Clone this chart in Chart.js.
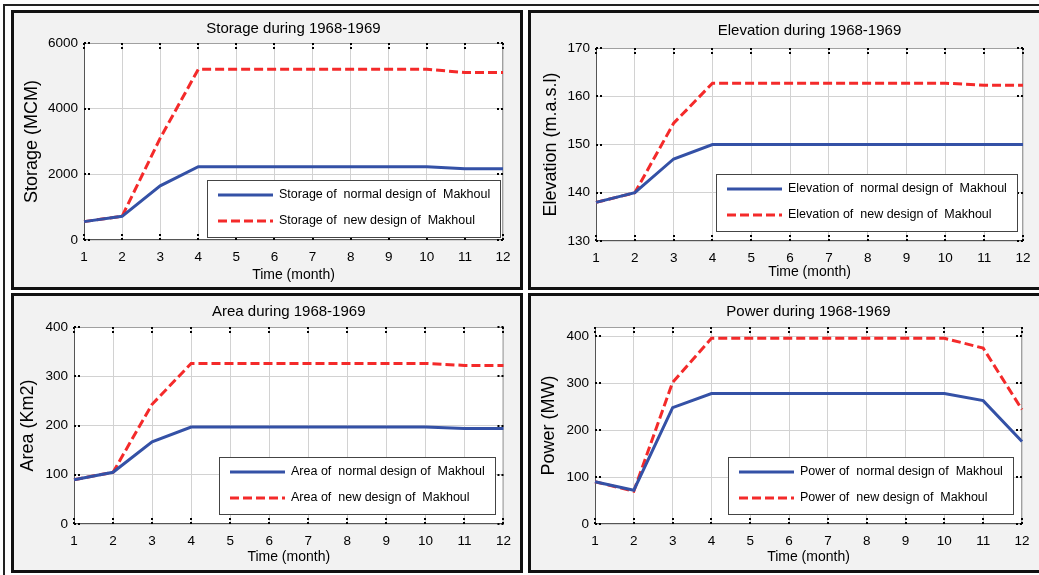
<!DOCTYPE html>
<html>
<head>
<meta charset="utf-8">
<script src="https://cdn.jsdelivr.net/npm/chart.js@4.4.1/dist/chart.umd.min.js"></script>
<style>
  body { margin: 0; width: 1039px; height: 575px; overflow: hidden; position: relative; background: #fff; }
  .frame { position: absolute; left: 3px; top: 4px; width: 1100px; height: 700px; border-left: 2px solid #222; border-top: 2px solid #222; }
  .panel { position: absolute; box-sizing: border-box; height: 280px; border: 3px solid #111; background: #f2f2f2; }
  .panel canvas { display: block; }
</style>
</head>
<body>
<div class="frame"></div>
<div class="panel" style="left:11px; top:10px; width:512px"><canvas id="storageChart" width="506" height="274"></canvas></div>
<div class="panel" style="left:528px; top:10px; width:516px"><canvas id="elevationChart" width="510" height="274"></canvas></div>
<div class="panel" style="left:11px; top:293px; width:512px"><canvas id="areaChart" width="506" height="274"></canvas></div>
<div class="panel" style="left:528px; top:293px; width:516px"><canvas id="powerChart" width="510" height="274"></canvas></div>

<script>
const months = ['1', '2', '3', '4', '5', '6', '7', '8', '9', '10', '11', '12'];

const storageNormal = [560, 720, 1650, 2230, 2230, 2230, 2230, 2230, 2230, 2230, 2170, 2170];
const storageNew = [560, 720, 3100, 5200, 5200, 5200, 5200, 5200, 5200, 5200, 5100, 5100];

const elevationNormal = [138, 140, 147, 150, 150, 150, 150, 150, 150, 150, 150, 150];
const elevationNew = [138, 140, 154.4, 162.7, 162.7, 162.7, 162.7, 162.7, 162.7, 162.7, 162.3, 162.3];

const areaNormal = [90, 105, 167, 197, 197, 197, 197, 197, 197, 197, 194, 194];
const areaNew = [90, 105, 243, 326, 326, 326, 326, 326, 326, 326, 322, 322];

const powerNormal = [90, 72, 248, 278, 278, 278, 278, 278, 278, 278, 263, 176];
const powerNew = [90, 70, 302, 396, 396, 396, 396, 396, 396, 396, 375, 244];

const SANS = '"Liberation Sans", Arial, sans-serif';
const BLUE = '#3451a6';
const RED = '#f42a2a';
const GRID = '#d2d2d2';
const INK = '#000';

// white plot box, grey frame and the short inward ticks on all four sides
const plotFrame = {
  id: 'plotFrame',
  beforeDraw(chart) {
    const { ctx, chartArea: a } = chart;
    ctx.save();
    ctx.fillStyle = '#fff';
    ctx.fillRect(a.left, a.top, a.width, a.height);
    ctx.restore();
  },
  beforeDatasetsDraw(chart) {
    const { ctx, chartArea: a, scales } = chart;
    ctx.save();
    ctx.lineWidth = 1;
    ctx.strokeStyle = '#a0a0a0';
    ctx.strokeRect(a.left + 0.5, a.top + 0.5, a.width - 1, a.height - 1);
    ctx.strokeStyle = '#555';
    ctx.beginPath();
    ctx.moveTo(a.left + 0.5, a.top);
    ctx.lineTo(a.left + 0.5, a.bottom - 0.5);
    ctx.lineTo(a.right, a.bottom - 0.5);
    ctx.stroke();

    ctx.strokeStyle = '#000';
    ctx.lineWidth = 2;
    ctx.setLineDash([2, 2]);
    ctx.beginPath();
    scales.x.ticks.forEach((t, i) => {
      const x = Math.round(scales.x.getPixelForTick(i));
      ctx.moveTo(x, a.top); ctx.lineTo(x, a.top + 8);
      ctx.moveTo(x, a.bottom); ctx.lineTo(x, a.bottom - 8);
    });
    scales.y.ticks.forEach(t => {
      const y = Math.round(scales.y.getPixelForValue(t.value));
      ctx.moveTo(a.left, y); ctx.lineTo(a.left + 8, y);
      ctx.moveTo(a.right, y); ctx.lineTo(a.right - 8, y);
    });
    ctx.stroke();
    ctx.restore();
  }
};

// boxed legend sitting in the lower right corner of the plot
const boxLegend = {
  id: 'boxLegend',
  afterDraw(chart, args, opts) {
    const { ctx, chartArea: a } = chart;
    const sets = chart.data.datasets;
    ctx.save();
    ctx.font = '12.5px ' + SANS;
    const textW = Math.max(...sets.map(d => ctx.measureText(d.label).width));
    const w = Math.round(11 + 55 + 6 + textW + 10);
    const h = 57;
    const x = Math.round(a.right - opts.right - w);
    const y = Math.round(a.bottom - opts.bottom - h);
    ctx.fillStyle = '#fff';
    ctx.fillRect(x, y, w, h);
    ctx.strokeStyle = '#444';
    ctx.lineWidth = 1;
    ctx.strokeRect(x + 0.5, y + 0.5, w, h);
    sets.forEach((d, i) => {
      const ly = y + 15 + i * 26;
      ctx.strokeStyle = d.borderColor;
      ctx.lineWidth = d.borderWidth;
      ctx.setLineDash(d.borderDash || []);
      ctx.beginPath();
      ctx.moveTo(x + 11, ly);
      ctx.lineTo(x + 66, ly);
      ctx.stroke();
      ctx.fillStyle = INK;
      ctx.textBaseline = 'middle';
      ctx.fillText(d.label, x + 72, ly);
    });
    ctx.restore();
  }
};

function makeChart(id, lay, title, yTitle, range, normal, fresh, names) {
  return new Chart(document.getElementById(id), {
    type: 'line',
    data: {
      labels: months,
      datasets: [
        { label: names[0], data: normal, borderColor: BLUE, borderWidth: 3, pointRadius: 0, tension: 0, fill: false },
        { label: names[1], data: fresh, borderColor: RED, borderWidth: 3, borderDash: [9, 4], pointRadius: 0, tension: 0, fill: false }
      ]
    },
    options: {
      responsive: false,
      animation: false,
      devicePixelRatio: 1,
      layout: { padding: { left: 0, right: lay.right, top: 0, bottom: 0 } },
      plugins: {
        legend: { display: false },
        tooltip: { enabled: false },
        title: {
          display: true,
          text: title,
          fullSize: false,
          color: INK,
          font: { family: SANS, size: 15, weight: 'normal' },
          padding: { top: lay.titleY - 9, bottom: lay.top - lay.titleY - 9 }
        },
        boxLegend: { right: lay.legendRight, bottom: lay.legendBottom }
      },
      scales: {
        x: {
          grid: { color: GRID, drawTicks: false },
          border: { display: false },
          ticks: { color: INK, font: { family: SANS, size: 13.5 }, padding: 9, maxRotation: 0, autoSkip: false },
          title: {
            display: true,
            text: 'Time (month)',
            color: INK,
            font: { family: SANS, size: 14 },
            padding: { top: 0, bottom: lay.xTitleBottom }
          },
          afterFit: s => { s.height = lay.bottom; }
        },
        y: {
          min: range[0],
          max: range[1],
          grid: { color: GRID, drawTicks: false },
          border: { display: false },
          ticks: {
            stepSize: range[2],
            includeBounds: false,
            color: INK,
            font: { family: SANS, size: 13.5 },
            padding: 6,
            callback: v => String(v)
          },
          title: {
            display: true,
            text: yTitle,
            color: INK,
            font: { family: SANS, size: 18 },
            padding: { top: lay.yTitleX - 10.8, bottom: 0 }
          },
          afterFit: s => { s.width = lay.left; }
        }
      }
    },
    plugins: [plotFrame, boxLegend]
  });
}

makeChart('storageChart',
  { left: 70, right: 17, top: 30, bottom: 47, titleY: 16, xTitleBottom: 3.5, yTitleX: 18, legendRight: 3, legendBottom: 3 },
  'Storage during 1968-1969', 'Storage (MCM)', [0, 6000, 2000],
  storageNormal, storageNew,
  ['Storage of  normal design of  Makhoul', 'Storage of  new design of  Makhoul']);

makeChart('elevationChart',
  { left: 65, right: 18, top: 35, bottom: 46, titleY: 18, xTitleBottom: 6, yTitleX: 19.7, legendRight: 6, legendBottom: 10 },
  'Elevation during 1968-1969', 'Elevation (m.a.s.l)', [130, 170, 10],
  elevationNormal, elevationNew,
  ['Elevation of  normal design of  Makhoul', 'Elevation of  new design of  Makhoul']);

makeChart('areaChart',
  { left: 60, right: 11, top: 31, bottom: 46, titleY: 16, xTitleBottom: 4, yTitleX: 14.3, legendRight: 8, legendBottom: 10 },
  'Area during 1968-1969', 'Area (Km2)', [0, 400, 100],
  areaNormal, areaNew,
  ['Area of  normal design of  Makhoul', 'Area of  new design of  Makhoul']);

makeChart('powerChart',
  { left: 64, right: 19, top: 31, bottom: 46, titleY: 16, xTitleBottom: 4, yTitleX: 18, legendRight: 9, legendBottom: 10 },
  'Power during 1968-1969', 'Power (MW)', [0, 420, 100],
  powerNormal, powerNew,
  ['Power of  normal design of  Makhoul', 'Power of  new design of  Makhoul']);
</script>
</body>
</html>
